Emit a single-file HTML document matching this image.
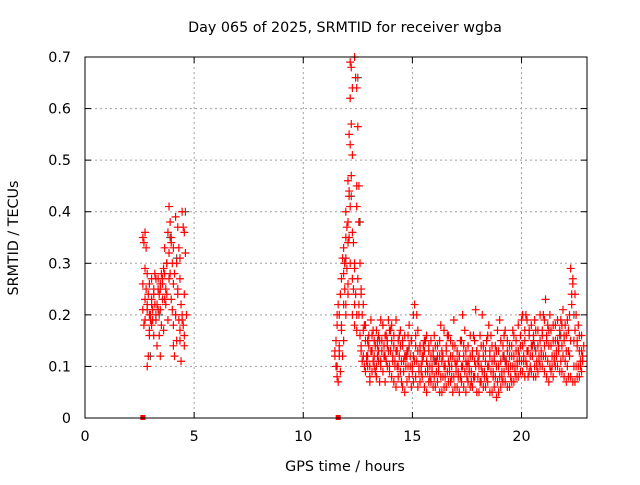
<!DOCTYPE html>
<html><head><meta charset="utf-8"><style>
body{margin:0;background:#fff}
svg{font-family:"DejaVu Sans","Liberation Sans",sans-serif;font-size:14.3px}
</style></head><body>
<svg width="640" height="480" id="chart">
<rect width="640" height="480" fill="#fff"/>
<text x="345" y="32" text-anchor="middle">Day 065 of 2025, SRMTID for receiver wgba</text>
<text x="345" y="471" text-anchor="middle">GPS time / hours</text>
<text transform="translate(18,238) rotate(-90)" text-anchor="middle">SRMTID / TECUs</text>
<g id="grid"></g><g id="ticks"></g><g id="marks"></g>
<rect x="85" y="57" width="502" height="361" fill="none" stroke="#000"/>
</svg>
<script>
const xTicks=[0,5,10,15,20];
const yTicks=[0,0.1,0.2,0.3,0.4,0.5,0.6,0.7];
const yTickLabels=["0","0.1","0.2","0.3","0.4","0.5","0.6","0.7"];
const redColumns=[
[2.7,[.21,.18,.23,.35,.34,.29,.26]],[2.8,[.36,.33,.22,.19,.25,.28]],[2.9,[.10,.12,.16,.21,.24,.2]],
[3.0,[.17,.2,.23,.26,.19,.22]],[3.1,[.18,.21,.24,.27,.19]],[3.2,[.25,.28,.2,.16,.22]],
[3.3,[.19,.22,.25,.27,.14]],[3.4,[.27,.24,.26,.21,.16,.12]],[3.5,[.25,.28,.23,.21,.18]],
[3.6,[.26,.29,.23,.27,.17]],[3.7,[.28,.25,.3,.33,.22]],[3.8,[.3,.36,.27,.24,.19]],
[3.9,[.41,.38,.34,.32,.28]],[4.0,[.35,.3,.26,.23,.21,.14]],[4.1,[.33,.28,.2,.18,.12]],
[4.2,[.39,.3,.25,.2,.15]],[4.3,[.37,.33,.27,.24,.19,.17]],[4.4,[.31,.22,.19,.15,.11]],
[4.5,[.4,.37,.24,.2,.18,.14]],[4.6,[.36,.32,.2,.16]],
[11.5,[.13,.1,.08,.12,.15,.2]],[11.6,[.18,.22,.14,.1,.07,.12]],[11.7,[.2,.24,.17,.13,.09]],
[11.8,[.27,.31,.22,.18,.12]],[11.9,[.33,.3,.35,.28,.25,.2,.15]],[12.0,[.4,.37,.34,.31,.29,.26,.22]],
[12.1,[.46,.43,.41,.38,.35,.3,.24]],[12.15,[.55,.53,.47,.44]],[12.2,[.69,.68,.64,.62,.57,.51]],
[12.3,[.36,.34,.3,.27,.25,.22,.2]],[12.4,[.7,.66,.45,.29,.24,.2,.18]],[12.5,[.64,.565,.45,.41,.27,.22,.17]],
[12.6,[.38,.3,.25,.2,.16,.13]],[12.7,[.24,.2,.17,.14,.11]],[12.8,[.22,.18,.15,.12,.1]],
[12.9,[.09,.12,.15,.18,.11]],[13.1,[.08,.13,.16,.1,.19]],[13.3,[.1,.14,.17,.12,.09]],
[13.5,[.11,.15,.19,.13,.07]],[13.7,[.09,.12,.16,.18,.14]],[13.9,[.1,.13,.17,.15,.19]],
[14.1,[.08,.12,.14,.18,.11]],[14.3,[.06,.1,.15,.19,.13]],[14.5,[.09,.11,.14,.17,.07]],
[14.7,[.05,.1,.13,.16,.12]],[14.9,[.08,.12,.15,.18,.1]],[15.1,[.07,.11,.14,.2,.22]],
[15.3,[.06,.1,.13,.17,.09]],[15.5,[.08,.12,.15,.11,.14]],[15.7,[.05,.09,.13,.16,.1]],
[15.9,[.07,.1,.12,.15,.09]],[16.1,[.06,.09,.12,.14,.11]],[16.3,[.05,.08,.11,.15,.18]],
[16.5,[.06,.1,.13,.17,.08]],[16.7,[.07,.09,.12,.16,.1]],[16.9,[.05,.08,.11,.14,.19]],
[17.1,[.06,.09,.12,.13,.08]],[17.3,[.07,.1,.12,.15,.2]],[17.5,[.05,.08,.11,.13,.1]],
[17.7,[.06,.09,.12,.16,.07]],[17.9,[.08,.1,.13,.15,.21]],[18.1,[.05,.07,.1,.12,.16]],
[18.3,[.06,.09,.11,.14,.08]],[18.5,[.07,.1,.13,.16,.18]],[18.7,[.05,.08,.11,.14,.09]],
[18.9,[.04,.07,.1,.13,.17]],[19.1,[.06,.09,.12,.15,.08]],[19.3,[.07,.1,.13,.17,.11]],
[19.5,[.06,.08,.12,.14,.1]],[19.7,[.07,.1,.13,.16,.09]],[19.9,[.08,.11,.14,.18,.12]],
[20.1,[.09,.12,.15,.2,.11]],[20.3,[.1,.13,.16,.19,.08]],[20.5,[.09,.12,.15,.18,.14]],
[20.7,[.08,.11,.14,.17,.1]],[20.9,[.1,.13,.16,.2,.12]],[21.1,[.09,.12,.15,.19,.23]],
[21.3,[.07,.1,.14,.17,.2]],[21.5,[.08,.12,.15,.18,.11]],[21.7,[.1,.13,.16,.19,.14]],
[21.9,[.09,.12,.15,.18,.21]],[22.1,[.07,.1,.13,.16,.19]],[22.3,[.08,.24,.27,.29,.22]],
[22.5,[.07,.1,.14,.17,.2]],[22.7,[.08,.11,.13,.16,.1]],
[13.0,[.1,.14,.07,.12,.16]],[13.2,[.09,.11,.15,.13,.17]],[13.4,[.08,.12,.16,.1,.14]],
[13.6,[.1,.13,.18,.11,.15]],[13.8,[.07,.11,.14,.12,.16]],[14.0,[.09,.13,.15,.1,.17]],
[14.2,[.07,.11,.13,.16,.1]],[14.4,[.08,.12,.14,.1,.16]],[14.6,[.06,.09,.12,.15,.11]],
[14.8,[.07,.1,.14,.12,.16]],[15.0,[.06,.09,.12,.15,.1]],[15.2,[.08,.11,.13,.16,.2]],
[15.4,[.07,.1,.12,.14,.09]],[15.6,[.06,.09,.11,.13,.15]],[15.8,[.07,.1,.12,.14,.08]],
[16.0,[.06,.08,.11,.13,.16]],[16.2,[.07,.09,.12,.14,.1]],[16.4,[.05,.08,.1,.13,.12]],
[16.6,[.06,.09,.11,.14,.16]],[16.8,[.07,.1,.12,.15,.08]],[17.0,[.06,.09,.11,.14,.1]],
[17.2,[.05,.08,.1,.12,.15]],[17.4,[.06,.09,.11,.14,.17]],[17.6,[.07,.1,.12,.14,.09]],
[17.8,[.06,.08,.11,.13,.16]],[18.0,[.05,.08,.1,.13,.11]],[18.2,[.07,.09,.12,.14,.2]],
[18.4,[.06,.08,.1,.13,.15]],[18.6,[.05,.09,.11,.12,.16]],[18.8,[.06,.08,.1,.12,.14]],
[19.0,[.05,.08,.11,.13,.19]],[19.2,[.07,.09,.11,.14,.16]],[19.4,[.06,.09,.12,.15,.1]],
[19.6,[.07,.1,.12,.14,.17]],[19.8,[.08,.1,.13,.15,.11]],[20.0,[.09,.11,.14,.16,.19]],
[20.2,[.08,.11,.13,.17,.2]],[20.4,[.09,.12,.14,.17,.1]],[20.6,[.08,.1,.13,.16,.19]],
[20.8,[.09,.12,.15,.17,.11]],[21.0,[.1,.12,.14,.17,.2]],[21.2,[.08,.11,.14,.16,.18]],
[21.4,[.09,.12,.15,.17,.1]],[21.6,[.1,.13,.15,.18,.12]],[21.8,[.09,.11,.14,.17,.19]],
[22.0,[.08,.11,.13,.16,.18]],[22.2,[.08,.12,.15,.17,.2]],[22.4,[.07,.1,.24,.26,.15]],
[22.6,[.08,.1,.13,.15,.18]],[22.8,[.09,.11,.14,.16,.12]]
];
const greyHours=[3.0,3.4,3.9,4.2,4.6,11.9,12.2,12.5,12.6,13.4,14.8,16.0,17.6,19.2,20.6,21.8,22.4];
const greyValues=[.12,.2,.35,.31,.4,.3,.43,.66,.38,.15,.13,.11,.09,.12,.14,.16,.2];
const markerHours=[2.65,11.6];
const markerValues=[0,0];

const NS="http://www.w3.org/2000/svg";
const X0=85,X1=587,Y0=418,Y1=57,XMAX=23,YMAX=0.7;
function sx(h){return X0+(h/XMAX)*(X1-X0);}
function sy(v){return Y0-(v/YMAX)*(Y0-Y1);}
function mk(tag,attrs,parent){const e=document.createElementNS(NS,tag);for(const k in attrs)e.setAttribute(k,attrs[k]);parent.appendChild(e);return e;}
const grid=document.getElementById('grid'),ticks=document.getElementById('ticks'),marks=document.getElementById('marks');
xTicks.forEach(t=>{
  const x=sx(t);
  if(t>0){const g=mk('line',{x1:x,x2:x,y1:Y1,y2:Y0,stroke:'#a0a0a0','stroke-dasharray':'2,3'},grid);
  
  }
  mk('line',{x1:x,x2:x,y1:Y0,y2:Y0-6,stroke:'#000'},ticks);
  mk('line',{x1:x,x2:x,y1:Y1,y2:Y1+6,stroke:'#000'},ticks);
  const l=mk('text',{x:x,y:Y0+23,'text-anchor':'middle'},ticks);l.textContent=t;
  
  
});
yTicks.forEach((t,i)=>{
  const y=sy(t);
  if(t>0&&t<YMAX){const g=mk('line',{x1:X0,x2:X1,y1:y,y2:y,stroke:'#a0a0a0','stroke-dasharray':'2,3'},grid);
  
  }
  mk('line',{x1:X0,x2:X0+6,y1:y,y2:y,stroke:'#000'},ticks);
  mk('line',{x1:X1,x2:X1-6,y1:y,y2:y,stroke:'#000'},ticks);
  const l=mk('text',{x:X0-14,y:y+5,'text-anchor':'end'},ticks);l.textContent=yTickLabels[i];
  
  
});
function plus(h,v,c,name){
  const x=sx(h),y=sy(v);
  const p=mk('path',{d:`M${x-4},${y}h8M${x},${y-4}v8`,stroke:c,'stroke-width':1.2,fill:'none'},marks);
  
  
}
greyHours.forEach((h,i)=>plus(h,greyValues[i],'#555','grey-point'));
redColumns.forEach(col=>{col[1].forEach((v,j)=>plus(col[0]+(j%3-1)*0.05,v,'#ff0000','red-point'));});
markerHours.forEach((h,i)=>{
  const r=mk('rect',{x:sx(h)-2.5,y:sy(markerValues[i])-3,width:5,height:5,fill:'#ff0000'},marks);
  
  
});
</script>
</body></html>
